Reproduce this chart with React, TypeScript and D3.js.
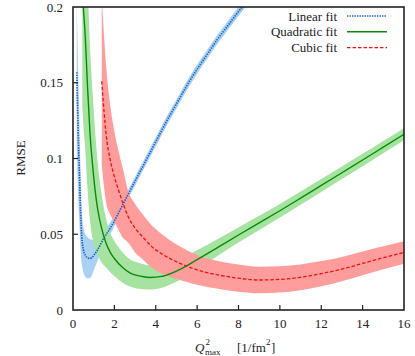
import React, { useEffect, useRef } from "react";
import * as d3 from "d3";

// Linear fit
const qLin = [0.18, 0.22, 0.27, 0.32, 0.37, 0.42, 0.5, 0.6, 0.7, 0.8, 0.9, 1.0, 1.2, 1.47, 1.8, 2.11, 2.5, 3.0, 3.5, 4.0, 4.5, 5.0, 5.5, 6.0, 6.5, 7.0, 7.5, 8.0, 8.4];
const rmseLin = [0.157, 0.133, 0.108, 0.086, 0.064, 0.049, 0.04, 0.036, 0.0345, 0.034, 0.0345, 0.036, 0.04, 0.047, 0.054, 0.0616, 0.072, 0.085, 0.098, 0.111, 0.124, 0.136, 0.148, 0.159, 0.169, 0.179, 0.188, 0.197, 0.204];
const errLin = [0.05, 0.045, 0.04, 0.032, 0.025, 0.018, 0.015, 0.014, 0.0135, 0.013, 0.012, 0.01, 0.007, 0.005, 0.004, 0.0035, 0.003, 0.003, 0.003, 0.003, 0.003, 0.003, 0.003, 0.003, 0.003, 0.003, 0.003, 0.003, 0.003];

// Quadratic fit
const qQuad = [0.45, 0.5, 0.58, 0.7, 0.82, 0.95, 1.06, 1.2, 1.4, 1.6, 1.8, 2.0, 2.4, 2.75, 3.2, 3.7, 4.3, 4.8, 5.2, 6, 7, 8, 9, 10, 11, 12, 13, 14, 15, 16];
const rmseQuad = [0.215, 0.2, 0.184, 0.148, 0.117, 0.095, 0.08, 0.066, 0.053, 0.044, 0.038, 0.034, 0.028, 0.0245, 0.0225, 0.0215, 0.0222, 0.0245, 0.027, 0.0332, 0.0413, 0.0495, 0.0575, 0.0655, 0.0738, 0.0822, 0.0906, 0.099, 0.1075, 0.116];
const errQuad = [0.08, 0.078, 0.075, 0.068, 0.058, 0.048, 0.04, 0.03, 0.022, 0.016, 0.013, 0.0115, 0.01, 0.009, 0.0085, 0.008, 0.0075, 0.007, 0.0068, 0.0062, 0.0055, 0.005, 0.0047, 0.0045, 0.0044, 0.0043, 0.0042, 0.0041, 0.004, 0.004];

// Cubic fit
const qCub = [1.39, 1.5, 1.6, 1.8, 2.0, 2.2, 2.4, 2.67, 3.0, 3.32, 3.8, 4.3, 4.9, 5.5, 6.0, 7.0, 8.0, 9.0, 10.0, 11.0, 12.0, 13.0, 14.0, 15.0, 16.0];
const rmseCub = [0.151, 0.131, 0.116, 0.099, 0.088, 0.079, 0.071, 0.0615, 0.054, 0.049, 0.042, 0.037, 0.0325, 0.029, 0.0265, 0.0232, 0.021, 0.0198, 0.0202, 0.0216, 0.024, 0.027, 0.0308, 0.0345, 0.038];
const errCub = [0.055, 0.05, 0.045, 0.036, 0.03, 0.026, 0.023, 0.017, 0.016, 0.015, 0.014, 0.013, 0.0115, 0.0105, 0.0098, 0.0092, 0.009, 0.0088, 0.0087, 0.0085, 0.0083, 0.008, 0.0078, 0.0076, 0.0074];

const xTicks = [0, 2, 4, 6, 8, 10, 12, 14, 16];
const yTicks = [0, 0.05, 0.1, 0.15, 0.2];
const yTickLabels = ["0", "0.05", "0.1", "0.15", "0.2"];

type Pt = { q: number; v: number; e: number };

const FONT = "'Liberation Serif', 'DejaVu Serif', 'Times New Roman', serif";

const series = [
  { name: "Linear fit", q: qLin, v: rmseLin, e: errLin, line: "#1f5fbf", band: "#a9d1f2", dash: "1.4,1.1", width: 1.7 },
  { name: "Quadratic fit", q: qQuad, v: rmseQuad, e: errQuad, line: "#0a8a0a", band: "#a6e3a1", dash: "", width: 1.4 },
  { name: "Cubic fit", q: qCub, v: rmseCub, e: errCub, line: "#f01010", band: "#ff9d9d", dash: "3.5,2", width: 1.3 },
];

const App: React.FC = () => {
  const ref = useRef<SVGSVGElement>(null);

  useEffect(() => {
    const width = 415;
    const height = 356;
    const m = { left: 73, right: 404, top: 7, bottom: 310 };

    const x = d3.scaleLinear().domain([0, 16]).range([m.left, m.right]);
    const y = d3.scaleLinear().domain([0, 0.2]).range([m.bottom, m.top]);

    const svg = d3.select(ref.current);
    svg.selectAll("*").remove();
    svg.attr("width", width).attr("height", height);

    svg
      .append("defs")
      .append("clipPath")
      .attr("id", "plotclip")
      .append("rect")
      .attr("x", m.left)
      .attr("y", m.top)
      .attr("width", m.right - m.left)
      .attr("height", m.bottom - m.top);

    const plot = svg.append("g").attr("clip-path", "url(#plotclip)");

    const data = series.map((s) => s.q.map((q, i) => ({ q, v: s.v[i], e: s.e[i] } as Pt)));

    const area = d3
      .area<Pt>()
      .x((d) => x(d.q))
      .y0((d) => y(d.v - d.e))
      .y1((d) => y(d.v + d.e))
      .curve(d3.curveMonotoneX);

    const line = d3
      .line<Pt>()
      .x((d) => x(d.q))
      .y((d) => y(d.v))
      .curve(d3.curveMonotoneX);

    // bands first, then lines on top
    series.forEach((s, i) => {
      plot.append("path").datum(data[i]).attr("fill", s.band).attr("d", area);
    });
    series.forEach((s, i) => {
      plot
        .append("path")
        .datum(data[i])
        .attr("fill", "none")
        .attr("stroke", s.line)
        .attr("stroke-width", s.width)
        .attr("stroke-dasharray", s.dash || null)
        .attr("d", line);
    });

    // frame
    svg
      .append("rect")
      .attr("x", m.left)
      .attr("y", m.top)
      .attr("width", m.right - m.left)
      .attr("height", m.bottom - m.top)
      .attr("fill", "none")
      .attr("stroke", "#222")
      .attr("stroke-width", 1.6);

    // ticks (inward, left and bottom)
    const axisG = svg.append("g").attr("stroke", "#222").attr("stroke-width", 1.2);
    xTicks.slice(1, -1).forEach((t) => {
      axisG.append("line").attr("x1", x(t)).attr("x2", x(t)).attr("y1", m.bottom).attr("y2", m.bottom - 5);
    });
    yTicks.slice(1, -1).forEach((t) => {
      axisG.append("line").attr("x1", m.left).attr("x2", m.left + 5).attr("y1", y(t)).attr("y2", y(t));
    });

    const txt = svg.append("g").style("font-family", FONT).style("font-size", "13px").attr("fill", "#222");

    xTicks.forEach((t) => {
      txt
        .append("text")
        .attr("x", x(t))
        .attr("y", 328)
        .attr("text-anchor", "middle")
        .text(String(t));
    });
    yTicks.forEach((t, i) => {
      txt
        .append("text")
        .attr("x", 63)
        .attr("y", y(t) + 4.5)
        .attr("text-anchor", "end")
        .text(yTickLabels[i]);
    });

    // axis titles
    txt
      .append("text")
      .attr("transform", "translate(25,158) rotate(-90)")
      .attr("text-anchor", "middle")
      .text("RMSE");

    const qT = txt.append("text").attr("x", 195).attr("y", 352).style("font-style", "italic").text("Q");
    const qW = (qT.node() as SVGTextElement).getComputedTextLength();
    txt.append("text").attr("x", 195 + qW + 1).attr("y", 345).style("font-size", "9px").text("2");
    txt.append("text").attr("x", 195 + qW + 0.5).attr("y", 355).style("font-size", "9px").text("max");
    const uT = txt.append("text").attr("x", 237).attr("y", 352).text("[1/fm");
    const uW = (uT.node() as SVGTextElement).getComputedTextLength();
    const sT = txt.append("text").attr("x", 237 + uW).attr("y", 345).style("font-size", "9px").text("2");
    const sW = (sT.node() as SVGTextElement).getComputedTextLength();
    txt.append("text").attr("x", 237 + uW + sW + 0.5).attr("y", 352).text("]");

    // legend
    series.forEach((s, i) => {
      const ly = 16 + i * 15.8;
      txt
        .append("text")
        .attr("x", 337)
        .attr("y", ly + 4.5)
        .attr("text-anchor", "end")
        .text(s.name);
      svg
        .append("line")
        .attr("x1", 347)
        .attr("x2", 387)
        .attr("y1", ly)
        .attr("y2", ly)
        .attr("stroke", s.line)
        .attr("stroke-width", s.width)
        .attr("stroke-dasharray", s.dash || null);
    });
  }, []);

  return (
    <svg
      ref={ref}
      style={{ position: "absolute", left: 0, top: 0, background: "#fff" }}
    ></svg>
  );
};

export default App;
